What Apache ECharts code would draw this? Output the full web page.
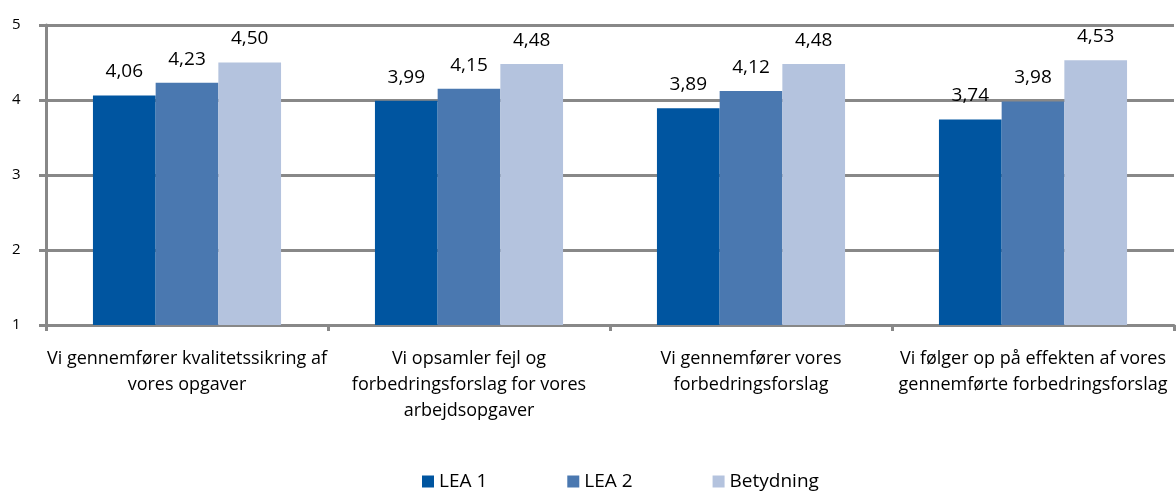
<!DOCTYPE html>
<html><head><meta charset="utf-8">
<script src="https://cdn.jsdelivr.net/npm/echarts@6/dist/echarts.min.js"></script>
<style>html,body{margin:0;padding:0;background:#fff}#c{width:1176px;height:492px}</style>
</head><body><div id="c"></div>
<script>
const categories = [
  "Vi gennemfører kvalitetssikring af\nvores opgaver",
  "Vi opsamler fejl og\nforbedringsforslag for vores\narbejdsopgaver",
  "Vi gennemfører vores\nforbedringsforslag",
  "Vi følger op på effekten af vores\ngennemførte forbedringsforslag"
];
const lea1 = [4.06, 3.99, 3.89, 3.74];
const lea2 = [4.23, 4.15, 4.12, 3.98];
const betydning = [4.50, 4.48, 4.48, 4.53];
const seriesNames = ["LEA 1", "LEA 2", "Betydning"];
const colors = ["#0055A0", "#4A78B0", "#B4C3DE"];
const FONT = "'Open Sans', Lato, sans-serif";
const chart = echarts.init(document.getElementById('c'));
const lbl = {show:true, position:'top', distance:14, fontFamily:FONT, fontSize:19, color:'#000',
  formatter: p => p.value.toFixed(2).replace('.', ',')};
chart.setOption({
  animation:false,
  textStyle:{fontFamily:FONT},
  color: colors,
  grid:{left:46, right:2, top:25, bottom:167, containLabel:false},
  legend:{top:472, left:422, padding:0, itemWidth:12, itemHeight:12, itemGap:80, icon:'rect',
    textStyle:{fontFamily:FONT, fontSize:19, color:'#000'}, data:seriesNames},
  xAxis:{type:'category', data:categories,
    axisLine:{lineStyle:{color:'#888888', width:3}},
    axisTick:{show:true, length:6, lineStyle:{color:'#888888', width:3}},
    axisLabel:{fontFamily:FONT, fontSize:18, color:'#000', lineHeight:26, margin:21, interval:0}},
  yAxis:{type:'value', min:1, max:5, interval:1,
    axisLine:{show:true, lineStyle:{color:'#888888', width:3}},
    axisTick:{show:true, length:7, lineStyle:{color:'#888888', width:3}},
    splitLine:{lineStyle:{color:'#888888', width:3}},
    axisLabel:{fontFamily:FONT, fontSize:15, color:'#000', align:'left', margin:34}},
  series:[
    {name:seriesNames[0], type:'bar', data:lea1, barGap:'0%', barCategoryGap:'33.3%', label:lbl},
    {name:seriesNames[1], type:'bar', data:lea2, barGap:'0%', barCategoryGap:'33.3%', label:lbl},
    {name:seriesNames[2], type:'bar', data:betydning, barGap:'0%', barCategoryGap:'33.3%', label:lbl}
  ]
});
</script></body></html>
